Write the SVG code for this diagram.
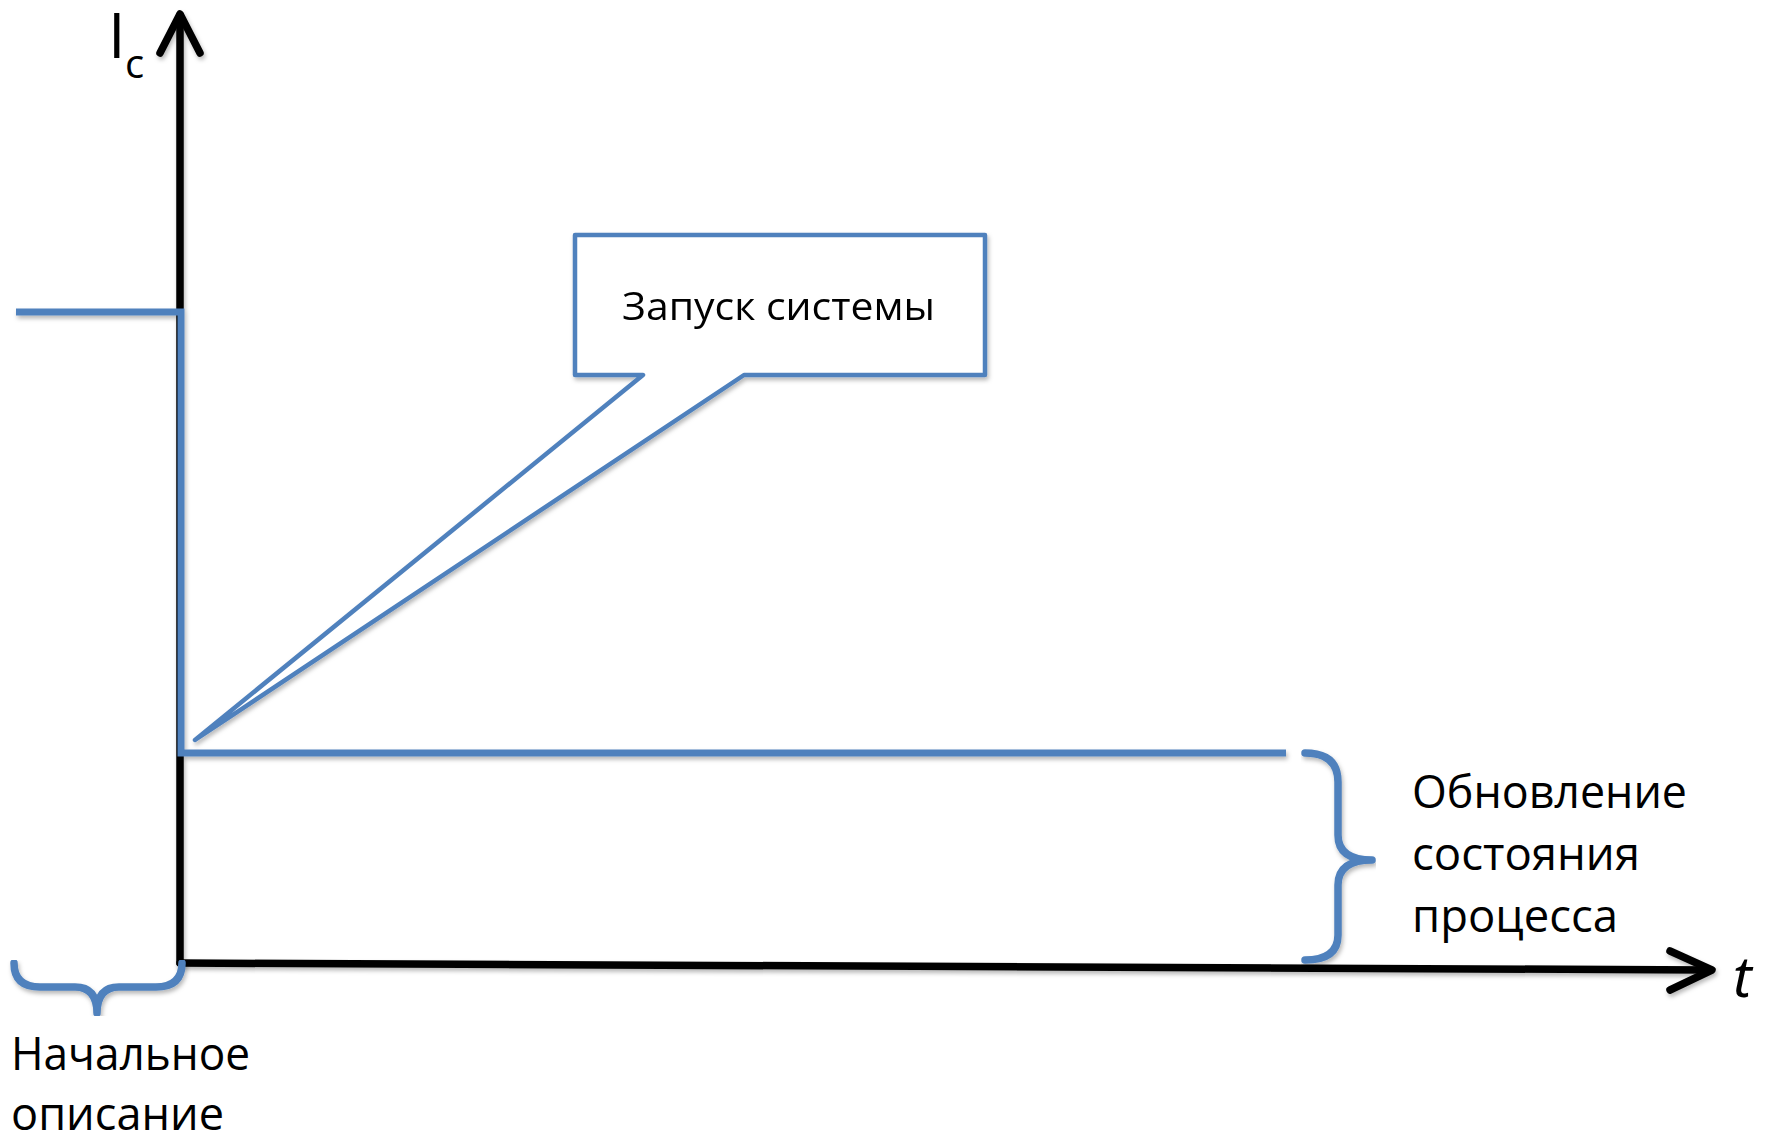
<svg xmlns="http://www.w3.org/2000/svg" width="1779" height="1138" viewBox="0 0 1779 1138">
<defs>
<filter id="sh" x="-5%" y="-5%" width="110%" height="110%">
<feDropShadow dx="1.5" dy="3" stdDeviation="2" flood-color="#000" flood-opacity="0.28"/>
</filter>
</defs>
<style>
.ax{fill:none;stroke:#000;stroke-width:7.5;stroke-linecap:round;stroke-linejoin:round}
.bl{fill:none;stroke:#4F81BD;stroke-width:7;stroke-linejoin:miter}
.br{fill:none;stroke:#4F81BD;stroke-width:7.5;stroke-linecap:round;stroke-linejoin:round}
.lbl{font-family:"Open Sans","Noto Sans","DejaVu Sans",sans-serif;font-size:46px;fill:#000}
</style>
<rect width="1779" height="1138" fill="#fff"/>
<g id="connectors" filter="url(#sh)">
<path class="ax" d="M180 963 L180 15"/>
<path class="ax" d="M160 53 L180 14 L200 53"/>
<path class="ax" d="M180 963 L1710 970"/>
<path class="ax" d="M1670 951 L1712 970 L1670 990"/>
<path class="bl" d="M16 312 L181 312 L181 753 L1286 753"/>
</g>
<g id="callout" filter="url(#sh)">
<path d="M575 235 L985 235 L985 375 L744 375 L195 740 L643 375 L575 375 Z" fill="#fff" stroke="#4F81BD" stroke-width="4.5" stroke-linejoin="round"/>
<text x="622" y="320" font-family="Open Sans, Noto Sans, sans-serif" font-size="39" textLength="313" lengthAdjust="spacingAndGlyphs">Запуск системы</text>
</g>
<g id="brace-initial" filter="url(#sh)">
<path class="br" d="M14 963 Q14 987 40 987 L75 987 Q97 987 97 1013 Q97 987 119 987 L156 987 Q182 987 182 963"/>
</g>
<g id="brace-update" filter="url(#sh)">
<path class="br" d="M1305 753 Q1338 753 1338 782 L1338 835 Q1338 860 1372 860 Q1338 860 1338 885 L1338 935 Q1338 960 1305 960"/>
</g>
<g id="ylabel">
<text x="108" y="58" font-family="Open Sans, Noto Sans, sans-serif" font-size="63">I</text>
<text x="125" y="78" font-family="Open Sans, Noto Sans, sans-serif" font-size="40">c</text>
</g>
<g id="xlabel">
<text x="1733" y="997" font-family="Noto Sans, Open Sans, sans-serif" font-style="italic" font-size="56">t</text>
</g>
<g id="label-initial">
<text class="lbl" x="11" y="1070" textLength="239" lengthAdjust="spacingAndGlyphs">Начальное</text>
<text class="lbl" x="11" y="1130" textLength="213" lengthAdjust="spacingAndGlyphs">описание</text>
</g>
<g id="label-update">
<text class="lbl" x="1412" y="808" textLength="275" lengthAdjust="spacingAndGlyphs">Обновление</text>
<text class="lbl" x="1412" y="870" textLength="228" lengthAdjust="spacingAndGlyphs">состояния</text>
<text class="lbl" x="1412" y="932" textLength="206" lengthAdjust="spacingAndGlyphs">процесса</text>
</g>
</svg>
